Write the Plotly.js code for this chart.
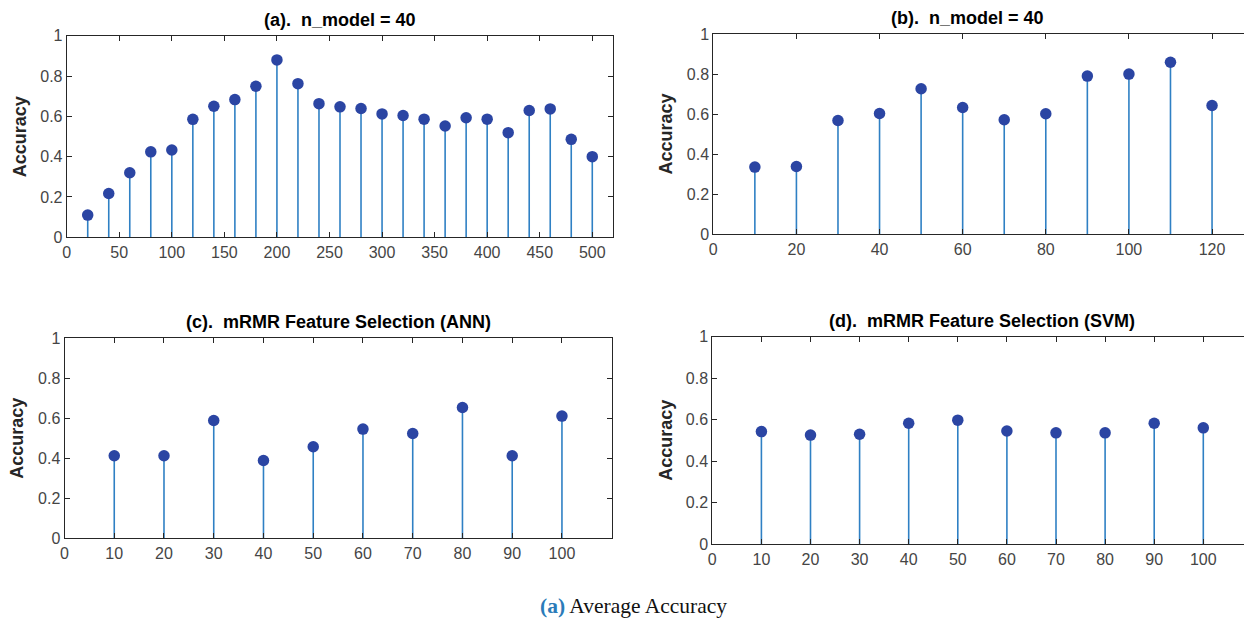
<!DOCTYPE html>
<html>
<head>
<meta charset="utf-8">
<script src="https://cdn.plot.ly/plotly-3.0.1.min.js"></script>
<style>
  html, body { margin: 0; padding: 0; background: #ffffff; overflow: hidden; width: 1244px; height: 618px; }
  #chart { width: 1260px; height: 618px; }
</style>
</head>
<body>
<div id="chart"></div>
<script>
// ---- data ----
const xA = [20, 40, 60, 80, 100, 120, 140, 160, 180, 200, 220, 240, 260, 280, 300, 320, 340, 360, 380, 400, 420, 440, 460, 480, 500];
const accA = [0.11, 0.217, 0.32, 0.424, 0.433, 0.585, 0.65, 0.683, 0.749, 0.88, 0.762, 0.663, 0.647, 0.639, 0.612, 0.604, 0.586, 0.552, 0.593, 0.586, 0.519, 0.629, 0.637, 0.486, 0.40];

const xB = [10, 20, 30, 40, 50, 60, 70, 80, 90, 100, 110, 120];
const accB = [0.336, 0.339, 0.569, 0.604, 0.728, 0.634, 0.573, 0.603, 0.791, 0.801, 0.86, 0.644];

const xC = [10, 20, 30, 40, 50, 60, 70, 80, 90, 100];
const accC = [0.413, 0.413, 0.589, 0.389, 0.458, 0.546, 0.524, 0.654, 0.413, 0.611];

const xD = [10, 20, 30, 40, 50, 60, 70, 80, 90, 100];
const accD = [0.543, 0.526, 0.530, 0.583, 0.598, 0.546, 0.537, 0.537, 0.583, 0.561];

const titles = ['(a).  n_model = 40', '(b).  n_model = 40', '(c).  mRMR Feature Selection (ANN)', '(d).  mRMR Feature Selection (SVM)'];
const yLabel = 'Accuracy';
const yTicks = [0, 0.2, 0.4, 0.6, 0.8, 1];
const yTickText = ['0', '0.2', '0.4', '0.6', '0.8', '1'];
const xTicksA = [0, 50, 100, 150, 200, 250, 300, 350, 400, 450, 500];
const xTicksB = [0, 20, 40, 60, 80, 100, 120];
const xTicksCD = [0, 10, 20, 30, 40, 50, 60, 70, 80, 90, 100];

// ---- layout geometry (pixels in a 1260 x 618 canvas) ----
const W = 1260, H = 618;
const boxes = [
  {l: 66.7, r: 613.3, t: 35.7, b: 237.3, xr: [0, 520], xt: xTicksA, tc: 340},
  {l: 713.3, r: 1253.6, t: 34.3, b: 234.3, xr: [0, 130], xt: xTicksB, tc: 967},
  {l: 64.5, r: 611.7, t: 338.3, b: 538.3, xr: [0, 110], xt: xTicksCD, tc: 338},
  {l: 712.3, r: 1252.4, t: 336.7, b: 544.3, xr: [0, 110], xt: xTicksCD, tc: 982}
];
const series = [[xA, accA], [xB, accB], [xC, accC], [xD, accD]];

const axisColor = '#262626';
const tickFont = {family: 'Liberation Sans, Arial, sans-serif', size: 16, color: '#454545'};
const stemColor = '#2f80c4';
const markColor = '#2b45a3';

const traces = [];
const layout = {
  width: W, height: H,
  margin: {l: 0, r: 0, t: 0, b: 0},
  paper_bgcolor: '#ffffff', plot_bgcolor: '#ffffff',
  showlegend: false,
  annotations: []
};

boxes.forEach((bx, i) => {
  const n = i + 1;
  const xa = n === 1 ? 'x' : 'x' + n;
  const ya = n === 1 ? 'y' : 'y' + n;
  const xKey = n === 1 ? 'xaxis' : 'xaxis' + n;
  const yKey = n === 1 ? 'yaxis' : 'yaxis' + n;
  const [xs, ys] = series[i];
  traces.push({
    type: 'scatter', mode: 'markers', x: xs, y: ys, xaxis: xa, yaxis: ya,
    marker: {color: markColor, size: 11.5, line: {width: 0}},
    error_y: {type: 'data', symmetric: false, array: ys.map(() => 0), arrayminus: ys, color: stemColor, thickness: 1.6, width: 0},
    cliponaxis: false,
    hoverinfo: 'x+y'
  });
  layout[xKey] = {
    domain: [bx.l / W, bx.r / W], range: bx.xr, anchor: ya,
    tickmode: 'array', tickvals: bx.xt, ticktext: bx.xt.map(String),
    ticks: 'inside', ticklen: 5, tickwidth: 1, tickcolor: axisColor,
    showline: true, linecolor: axisColor, linewidth: 1, mirror: 'ticks',
    showgrid: false, zeroline: false, tickfont: tickFont, fixedrange: true
  };
  layout[yKey] = {
    domain: [1 - bx.b / H, 1 - bx.t / H], range: [0, 1], anchor: xa,
    tickmode: 'array', tickvals: yTicks, ticktext: yTickText,
    ticks: 'inside', ticklen: 5, tickwidth: 1, tickcolor: axisColor,
    showline: true, linecolor: axisColor, linewidth: 1, mirror: 'ticks',
    showgrid: false, zeroline: false, tickfont: tickFont, fixedrange: true
  };
  // title
  layout.annotations.push({
    xref: 'paper', yref: 'paper', x: bx.tc / W, y: 1 - (bx.t - 4) / H,
    xanchor: 'center', yanchor: 'bottom', showarrow: false,
    text: '<b>' + titles[i] + '</b>',
    font: {family: 'Liberation Sans, Arial, sans-serif', size: 18, color: '#000000'}
  });
  // y label
  layout.annotations.push({
    xref: 'paper', yref: 'paper', x: (bx.l - 47) / W, y: 1 - ((bx.t + bx.b) / 2) / H,
    xanchor: 'center', yanchor: 'middle', showarrow: false, textangle: -90,
    text: '<b>' + yLabel + '</b>',
    font: {family: 'Liberation Sans, Arial, sans-serif', size: 18, color: '#262626'}
  });
});

// caption
layout.annotations.push({
  xref: 'paper', yref: 'paper', x: 633 / W, y: 1 - 606 / H,
  xanchor: 'center', yanchor: 'middle', showarrow: false,
  text: '<b><span style="color:#2b7bb9">(a)</span></b> Average Accuracy',
  font: {family: 'Liberation Serif, Times New Roman, serif', size: 21.5, color: '#111111'}
});

Plotly.newPlot('chart', traces, layout, {displayModeBar: false, staticPlot: true});
</script>
</body>
</html>
